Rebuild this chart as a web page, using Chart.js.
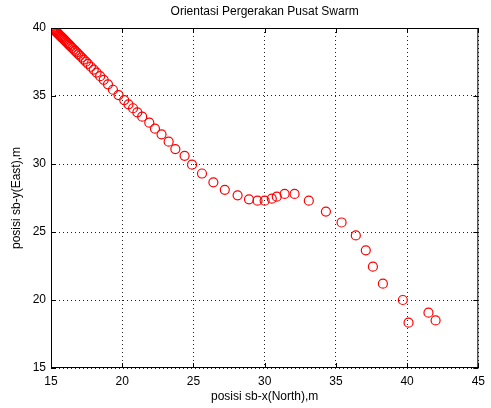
<!DOCTYPE html>
<html>
<head>
<meta charset="utf-8">
<script src="https://cdn.jsdelivr.net/npm/chart.js@4"></script>
<style>
  html, body { margin: 0; padding: 0; background: #fff; }
  #wrap { width: 491px; height: 408px; }
</style>
</head>
<body>
<div id="wrap"><canvas id="swarmChart"></canvas></div>
<script>
// posisi pusat swarm
const posX = [15.1, 15.15, 15.2, 15.25, 15.3, 15.35, 15.4, 15.45, 15.5, 15.56,
  15.62, 15.68, 15.74, 15.8, 15.87, 15.94, 16.01, 16.08, 16.16, 16.24,
  16.32, 16.4, 16.5, 16.6, 16.7, 16.8, 16.92, 17.04, 17.16, 17.3,
  17.45, 17.6, 17.8, 18.0, 18.2, 18.45, 18.7, 19.0, 19.35, 19.74,
  20.14, 20.44, 20.76, 21.06, 21.4, 21.9, 22.3, 22.76, 23.26, 23.73,
  24.38, 24.9, 25.6, 26.4, 27.2, 28.1, 28.9, 29.5, 30.0, 30.5,
  30.85, 31.4, 32.1, 33.1, 34.3, 35.4, 36.4, 37.1, 37.6, 38.3,
  39.7, 40.1, 41.5, 42.0];
const posY = [40.0, 39.95, 39.9, 39.85, 39.8, 39.74, 39.69, 39.64, 39.58, 39.52,
  39.46, 39.39, 39.33, 39.27, 39.2, 39.12, 39.05, 38.97, 38.89, 38.8,
  38.72, 38.63, 38.53, 38.42, 38.32, 38.21, 38.08, 37.96, 37.83, 37.68,
  37.52, 37.36, 37.15, 36.94, 36.72, 36.46, 36.19, 35.86, 35.46, 35.07,
  34.7, 34.39, 34.1, 33.8, 33.48, 33.04, 32.6, 32.18, 31.64, 31.1,
  30.6, 29.95, 29.3, 28.65, 28.1, 27.7, 27.4, 27.3, 27.3, 27.45,
  27.6, 27.8, 27.8, 27.3, 26.5, 25.7, 24.75, 23.65, 22.45, 21.2,
  20.0, 18.33, 19.07, 18.5];
const ticksX = [15, 20, 25, 30, 35, 40, 45];
const ticksY = [15, 20, 25, 30, 35, 40];

const judul = 'Orientasi Pergerakan Pusat Swarm';
const labelX = 'posisi sb-x(North),m';
const labelY = 'posisi sb-y(East),m';

const FONT = '"Liberation Sans", Arial, sans-serif';

// kotak, tick ke dalam, dan teks judul ala matlab
const gayaMatlab = {
  id: 'gayaMatlab',
  afterDraw(chart) {
    const ctx = chart.ctx;
    const a = chart.chartArea;
    const sx = chart.scales.x, sy = chart.scales.y;
    ctx.save();
    ctx.strokeStyle = '#000';
    ctx.lineWidth = 1;
    ctx.strokeRect(a.left + 0.5, a.top + 0.5, a.right - a.left - 1, a.bottom - a.top - 1);
    ctx.beginPath();
    ticksX.forEach(v => {
      const p = Math.round(sx.getPixelForValue(v)) + 0.5;
      ctx.moveTo(p, a.bottom); ctx.lineTo(p, a.bottom - 5);
      ctx.moveTo(p, a.top); ctx.lineTo(p, a.top + 5);
    });
    ticksY.forEach(v => {
      const p = Math.round(sy.getPixelForValue(v)) + 0.5;
      ctx.moveTo(a.left, p); ctx.lineTo(a.left + 5, p);
      ctx.moveTo(a.right, p); ctx.lineTo(a.right - 5, p);
    });
    ctx.stroke();

    ctx.fillStyle = '#000';
    ctx.font = '12px ' + FONT;
    ctx.textAlign = 'center';
    ctx.textBaseline = 'middle';
    const cx = (a.left + a.right) / 2, cy = (a.top + a.bottom) / 2;
    ctx.fillText(judul, cx, 12);
    ctx.fillText(labelX, cx, 397);
    ctx.translate(17, cy);
    ctx.rotate(-Math.PI / 2);
    ctx.fillText(labelY, 0, 0);
    ctx.restore();
  }
};

const gridDot = {
  color: '#222',
  lineWidth: 1,
  drawTicks: false
};

new Chart(document.getElementById('swarmChart'), {
  type: 'scatter',
  data: {
    datasets: [{
      data: posX.map((x, i) => ({ x: x, y: posY[i] })),
      pointStyle: 'circle',
      pointRadius: 4.5,
      pointHoverRadius: 4.5,
      borderColor: '#ff0000',
      backgroundColor: 'rgba(0,0,0,0)',
      borderWidth: 1.2
    }]
  },
  options: {
    responsive: true,
    maintainAspectRatio: false,
    animation: false,
    layout: { padding: { top: 28, right: 8, left: 0, bottom: 0 } },
    plugins: {
      legend: { display: false },
      tooltip: { enabled: false }
    },
    scales: {
      x: {
        type: 'linear',
        min: 15, max: 45,
        afterBuildTicks(s) { s.ticks = ticksX.map(v => ({ value: v })); },
        afterFit(s) { s.height = 40; },
        border: { display: false, dash: [1, 3] },
        grid: gridDot,
        ticks: { color: '#000', padding: 6, font: { family: FONT, size: 12 } }
      },
      y: {
        type: 'linear',
        min: 15, max: 40,
        afterBuildTicks(s) { s.ticks = ticksY.map(v => ({ value: v })); },
        afterFit(s) { s.width = 51; },
        border: { display: false, dash: [1, 3] },
        grid: gridDot,
        ticks: { color: '#000', padding: 5, font: { family: FONT, size: 12 } }
      }
    }
  },
  plugins: [gayaMatlab]
});
</script>
</body>
</html>
